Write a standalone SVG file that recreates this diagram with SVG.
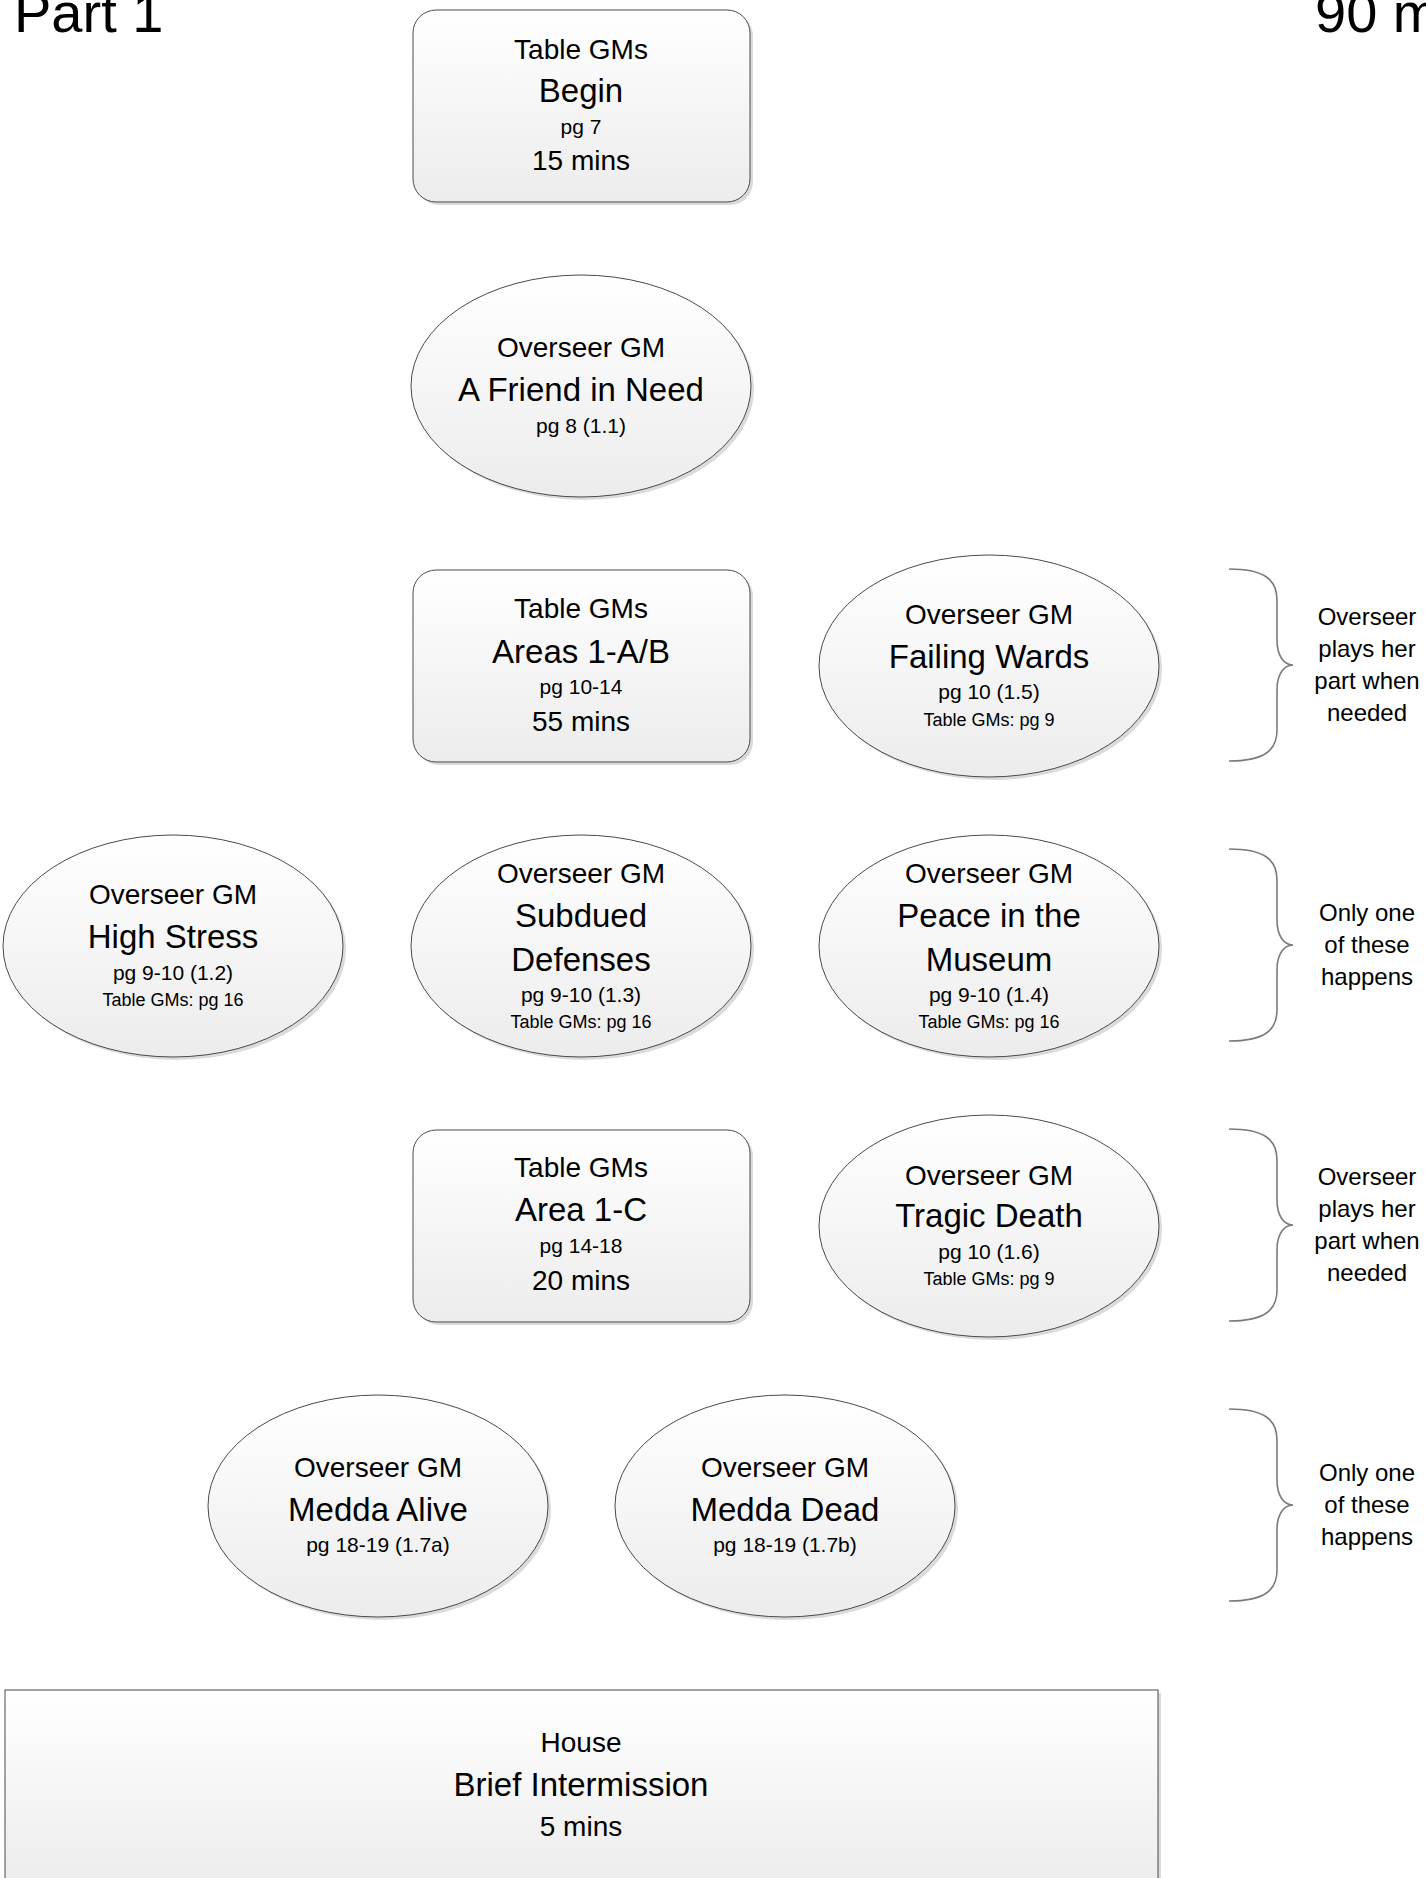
<svg xmlns="http://www.w3.org/2000/svg" width="1426" height="1878" viewBox="0 0 1426 1878">
<defs>
<linearGradient id="fillg" x1="0" y1="0" x2="0" y2="1">
<stop offset="0" stop-color="#ffffff"/>
<stop offset="1" stop-color="#ececec"/>
</linearGradient>
<style>
text{font-family:"Liberation Sans",Arial,sans-serif;fill:#000;text-anchor:middle}
.shape{fill:url(#fillg);stroke:#4a4a4a;stroke-width:1}
.shadow{fill:#bdbdbd;opacity:0.55;stroke:none}
.hd{font-size:28px}
.tt{font-size:33px}
.pg{font-size:21px}
.sm{font-size:18px}
.br{font-size:24px}
.big{font-size:56px;text-anchor:start}
.brace{fill:none;stroke:#7a7a7a;stroke-width:1.6}
</style>
</defs>
<rect width="1426" height="1878" fill="#ffffff"/>

<text class="big" x="14" y="32">Part 1</text>
<text class="big" x="1315" y="32">90 m</text>

<g id="connectors"></g>

<g id="begin">
<rect class="shadow" x="416" y="13" width="337" height="192" rx="23"/>
<rect class="shape" x="413" y="10" width="337" height="192" rx="23"/>
<text class="hd" x="581" y="59">Table GMs</text>
<text class="tt" x="581" y="102">Begin</text>
<text class="pg" x="581" y="134">pg 7</text>
<text class="hd" x="581" y="170">15 mins</text>
</g>

<g id="friend">
<ellipse class="shadow" cx="584" cy="389" rx="170" ry="111"/>
<ellipse class="shape" cx="581" cy="386" rx="170" ry="111"/>
<text class="hd" x="581" y="357">Overseer GM</text>
<text class="tt" x="581" y="401">A Friend in Need</text>
<text class="pg" x="581" y="433">pg 8 (1.1)</text>
</g>

<g id="areas">
<rect class="shadow" x="416" y="573" width="337" height="192" rx="23"/>
<rect class="shape" x="413" y="570" width="337" height="192" rx="23"/>
<text class="hd" x="581" y="618">Table GMs</text>
<text class="tt" x="581" y="663">Areas 1-A/B</text>
<text class="pg" x="581" y="694">pg 10-14</text>
<text class="hd" x="581" y="731">55 mins</text>
</g>

<g id="failing">
<ellipse class="shadow" cx="992" cy="669" rx="170" ry="111"/>
<ellipse class="shape" cx="989" cy="666" rx="170" ry="111"/>
<text class="hd" x="989" y="624">Overseer GM</text>
<text class="tt" x="989" y="668">Failing Wards</text>
<text class="pg" x="989" y="699">pg 10 (1.5)</text>
<text class="sm" x="989" y="726">Table GMs: pg 9</text>
</g>

<g id="highstress">
<ellipse class="shadow" cx="176" cy="949" rx="170" ry="111"/>
<ellipse class="shape" cx="173" cy="946" rx="170" ry="111"/>
<text class="hd" x="173" y="904">Overseer GM</text>
<text class="tt" x="173" y="948">High Stress</text>
<text class="pg" x="173" y="980">pg 9-10 (1.2)</text>
<text class="sm" x="173" y="1006">Table GMs: pg 16</text>
</g>

<g id="subdued">
<ellipse class="shadow" cx="584" cy="949" rx="170" ry="111"/>
<ellipse class="shape" cx="581" cy="946" rx="170" ry="111"/>
<text class="hd" x="581" y="883">Overseer GM</text>
<text class="tt" x="581" y="927">Subdued</text>
<text class="tt" x="581" y="971">Defenses</text>
<text class="pg" x="581" y="1002">pg 9-10 (1.3)</text>
<text class="sm" x="581" y="1028">Table GMs: pg 16</text>
</g>

<g id="peace">
<ellipse class="shadow" cx="992" cy="949" rx="170" ry="111"/>
<ellipse class="shape" cx="989" cy="946" rx="170" ry="111"/>
<text class="hd" x="989" y="883">Overseer GM</text>
<text class="tt" x="989" y="927">Peace in the</text>
<text class="tt" x="989" y="971">Museum</text>
<text class="pg" x="989" y="1002">pg 9-10 (1.4)</text>
<text class="sm" x="989" y="1028">Table GMs: pg 16</text>
</g>

<g id="area1c">
<rect class="shadow" x="416" y="1133" width="337" height="192" rx="23"/>
<rect class="shape" x="413" y="1130" width="337" height="192" rx="23"/>
<text class="hd" x="581" y="1177">Table GMs</text>
<text class="tt" x="581" y="1221">Area 1-C</text>
<text class="pg" x="581" y="1253">pg 14-18</text>
<text class="hd" x="581" y="1290">20 mins</text>
</g>

<g id="tragic">
<ellipse class="shadow" cx="992" cy="1229" rx="170" ry="111"/>
<ellipse class="shape" cx="989" cy="1226" rx="170" ry="111"/>
<text class="hd" x="989" y="1185">Overseer GM</text>
<text class="tt" x="989" y="1227">Tragic Death</text>
<text class="pg" x="989" y="1259">pg 10 (1.6)</text>
<text class="sm" x="989" y="1285">Table GMs: pg 9</text>
</g>

<g id="meddaalive">
<ellipse class="shadow" cx="381" cy="1509" rx="170" ry="111"/>
<ellipse class="shape" cx="378" cy="1506" rx="170" ry="111"/>
<text class="hd" x="378" y="1477">Overseer GM</text>
<text class="tt" x="378" y="1521">Medda Alive</text>
<text class="pg" x="378" y="1552">pg 18-19 (1.7a)</text>
</g>

<g id="meddadead">
<ellipse class="shadow" cx="788" cy="1509" rx="170" ry="111"/>
<ellipse class="shape" cx="785" cy="1506" rx="170" ry="111"/>
<text class="hd" x="785" y="1477">Overseer GM</text>
<text class="tt" x="785" y="1521">Medda Dead</text>
<text class="pg" x="785" y="1552">pg 18-19 (1.7b)</text>
</g>

<g id="intermission">
<rect class="shadow" x="8" y="1693" width="1153" height="200"/>
<rect class="shape" x="5" y="1690" width="1153" height="200"/>
<text class="hd" x="581" y="1752">House</text>
<text class="tt" x="581" y="1796">Brief Intermission</text>
<text class="hd" x="581" y="1836">5 mins</text>
</g>

<g id="brace1">
<path class="brace" d="M1229,569 C1262,569 1277,578 1277,600 L1277,640 C1277,656 1284,665 1293,665 C1284,665 1277,674 1277,690 L1277,730 C1277,752 1262,761 1229,761"/>
<text class="br" x="1367" y="625">Overseer</text>
<text class="br" x="1367" y="657">plays her</text>
<text class="br" x="1367" y="689">part when</text>
<text class="br" x="1367" y="721">needed</text>
</g>

<g id="brace2">
<path class="brace" d="M1229,849 C1262,849 1277,858 1277,880 L1277,920 C1277,936 1284,945 1293,945 C1284,945 1277,954 1277,970 L1277,1010 C1277,1032 1262,1041 1229,1041"/>
<text class="br" x="1367" y="921">Only one</text>
<text class="br" x="1367" y="953">of these</text>
<text class="br" x="1367" y="985">happens</text>
</g>

<g id="brace3">
<path class="brace" d="M1229,1129 C1262,1129 1277,1138 1277,1160 L1277,1200 C1277,1216 1284,1225 1293,1225 C1284,1225 1277,1234 1277,1250 L1277,1290 C1277,1312 1262,1321 1229,1321"/>
<text class="br" x="1367" y="1185">Overseer</text>
<text class="br" x="1367" y="1217">plays her</text>
<text class="br" x="1367" y="1249">part when</text>
<text class="br" x="1367" y="1281">needed</text>
</g>

<g id="brace4">
<path class="brace" d="M1229,1409 C1262,1409 1277,1418 1277,1440 L1277,1480 C1277,1496 1284,1505 1293,1505 C1284,1505 1277,1514 1277,1530 L1277,1570 C1277,1592 1262,1601 1229,1601"/>
<text class="br" x="1367" y="1481">Only one</text>
<text class="br" x="1367" y="1513">of these</text>
<text class="br" x="1367" y="1545">happens</text>
</g>
</svg>
